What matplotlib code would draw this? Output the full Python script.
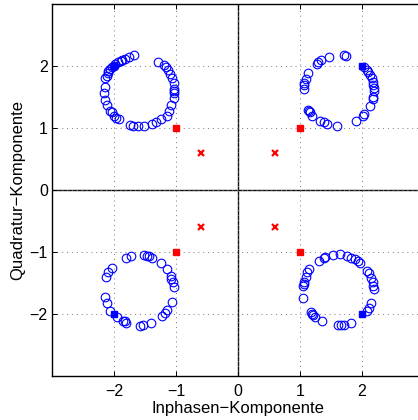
import matplotlib
matplotlib.use("Agg")
import matplotlib.pyplot as plt

plt.rcParams['font.family'] = ['Liberation Sans', 'DejaVu Sans']

# received symbols
ul_x = [-1.68, -1.76, -1.83, -1.87, -1.89, -1.94, -1.98, -2.00, -2.04, -2.06, -2.09, -2.10, -2.12, -2.15,
        -2.15, -2.16, -2.14, -2.12, -2.06, -2.04, -2.00, -1.96, -1.92, -1.75, -1.69, -1.61, -1.51, -1.39,
        -1.33, -1.24, -1.15, -1.12, -1.08, -1.03, -1.03, -1.03, -1.03, -1.04, -1.07, -1.10, -1.13, -1.16,
        -1.19, -1.29]
ul_y = [2.17, 2.15, 2.12, 2.10, 2.08, 2.06, 2.03, 2.00, 1.98, 1.95, 1.92, 1.88, 1.84, 1.80,
        1.66, 1.56, 1.45, 1.37, 1.28, 1.26, 1.20, 1.16, 1.14, 1.05, 1.04, 1.03, 1.04, 1.06,
        1.10, 1.15, 1.20, 1.27, 1.37, 1.48, 1.56, 1.60, 1.63, 1.73, 1.80, 1.87, 1.94, 1.99,
        2.02, 2.07]

ur_x = [1.47, 1.71, 1.74, 1.34, 1.29, 1.27, 1.13, 1.09, 1.07, 1.06, 1.06, 1.13, 1.16, 1.20,
        1.33, 1.39, 1.43, 1.60, 1.90, 2.01, 2.04, 2.13, 2.17, 2.18, 2.19, 2.18, 2.17, 2.16,
        2.13, 2.10, 2.08, 2.03, 2.19, 1.14]
ur_y = [2.15, 2.17, 2.16, 2.10, 2.06, 2.04, 1.88, 1.79, 1.73, 1.69, 1.63, 1.29, 1.26, 1.19,
        1.11, 1.09, 1.06, 1.03, 1.11, 1.19, 1.23, 1.35, 1.46, 1.50, 1.64, 1.69, 1.75, 1.80,
        1.85, 1.90, 1.94, 1.99, 1.60, 1.28]

ll_x = [-1.80, -1.73, -1.52, -1.44, -1.38, -1.24, -1.15, -1.08, -1.05, -1.03, -1.06, -1.14, -1.18,
        -1.23, -1.40, -1.54, -1.58, -1.81, -1.85, -1.95, -2.06, -2.12, -2.15, -2.13, -2.10, -2.04,
        -1.47, -1.08, -1.83]
ll_y = [-1.09, -1.06, -1.05, -1.06, -1.09, -1.17, -1.27, -1.39, -1.49, -1.57, -1.81, -1.94, -1.98,
        -2.04, -2.14, -2.18, -2.19, -2.14, -2.11, -2.05, -1.95, -1.83, -1.73, -1.41, -1.32, -1.26,
        -1.06, -1.43, -2.12]

lr_x = [1.31, 1.38, 1.41, 1.53, 1.65, 1.76, 1.83, 1.89, 1.94, 1.97, 2.08, 2.11, 2.15, 2.17,
        2.18, 2.19, 2.15, 2.11, 2.08, 1.82, 1.71, 1.66, 1.62, 1.35, 1.24, 1.19, 1.17, 1.05,
        1.05, 1.06, 1.09, 1.12, 1.15, 1.07, 1.21]
lr_y = [-1.14, -1.09, -1.08, -1.05, -1.04, -1.06, -1.09, -1.11, -1.14, -1.17, -1.30, -1.34, -1.42, -1.49,
        -1.55, -1.60, -1.83, -1.91, -1.95, -2.14, -2.17, -2.18, -2.18, -2.11, -2.05, -2.00, -1.97, -1.74,
        -1.55, -1.48, -1.41, -1.33, -1.27, -1.52, -2.02]

# reference constellation points
ideal_x = [-2, 2, -2, 2]
ideal_y = [2, 2, -2, -2]
red_sq_x = [-1, 1, -1, 1]
red_sq_y = [1, 1, -1, -1]
red_x_x = [-0.6, 0.6, -0.6, 0.6]
red_x_y = [0.6, 0.6, -0.6, -0.6]

ticks = [-2, -1, 0, 1, 2]
tick_labels = ['\u22122', '\u22121', '0', '1', '2']

fig = plt.figure(figsize=(4.18, 4.20), dpi=100)
ax = fig.add_axes([52/418, 44/420, 372/418, 372/420])

ax.set_xlim(-3, 3)
ax.set_ylim(-3, 3)

ax.axhline(0, color='#111111', lw=1.0, zorder=1)
ax.axvline(0, color='#111111', lw=1.0, zorder=1)

circ = dict(ls='none', marker='o', mfc='none', mec='#0000ff', ms=6.2, mew=0.8, zorder=3)
for xs, ys in [(ul_x, ul_y), (ur_x, ur_y), (ll_x, ll_y), (lr_x, lr_y)]:
    ax.plot(xs, ys, **circ)

ax.plot(ideal_x, ideal_y, ls='none', marker='s', color='#0000ff', ms=4.5, zorder=4)
ax.plot(red_sq_x, red_sq_y, ls='none', marker='s', color='#ff0000', ms=4.5, zorder=4)
ax.plot(red_x_x, red_x_y, ls='none', marker='x', color='#ff0000', ms=3.8, mew=1.6, zorder=4)

ax.set_xticks(ticks)
ax.set_yticks(ticks)
ax.set_xticklabels(tick_labels)
ax.set_yticklabels(tick_labels)
ax.grid(True, ls=(0, (1, 4)), color='#777777', lw=0.7)
ax.tick_params(direction='in', top=True, right=True, labelsize=11.5, length=3.5, width=0.7)
ax.tick_params(axis='x', pad=6)
ax.tick_params(axis='y', pad=3)
for s in ax.spines.values():
    s.set_linewidth(1.0)

ax.set_xlabel('Inphasen\u2212Komponente', fontsize=12, labelpad=1)
ax.set_ylabel('Quadratur\u2212Komponente', fontsize=12, labelpad=3)

fig.savefig('out.png', dpi=100)
